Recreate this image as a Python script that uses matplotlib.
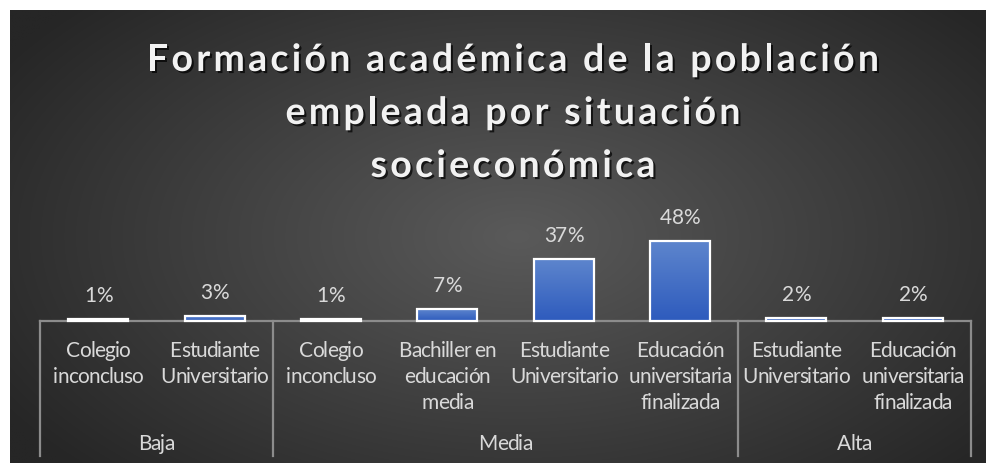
import numpy as np
import matplotlib
matplotlib.use("Agg")
import matplotlib.pyplot as plt
import matplotlib.patheffects as pe
from matplotlib.colors import LinearSegmentedColormap
from matplotlib.transforms import IdentityTransform
from matplotlib.font_manager import FontProperties, findfont, get_font

# ---- data ----
groups = ["Baja", "Media", "Alta"]
group_sizes = [2, 4, 2]
categories = [
    "Colegio\ninconcluso", "Estudiante\nUniversitario",
    "Colegio\ninconcluso", "Bachiller en\neducación\nmedia",
    "Estudiante\nUniversitario", "Educación\nuniversitaria\nfinalizada",
    "Estudiante\nUniversitario", "Educación\nuniversitaria\nfinalizada",
]
values = [1, 3, 1, 7, 37, 48, 2, 2]
value_labels = ["1%", "3%", "1%", "7%", "37%", "48%", "2%", "2%"]
title_lines = ["Formación académica de la población",
               "empleada por situación",
               "socieconómica"]

W, H = 987, 464
fig = plt.figure(figsize=(W / 100, H / 100), dpi=100, facecolor="white")
IDT = IdentityTransform()


def advances(s, prop):
    font = get_font(findfont(prop))
    font.set_size(prop.get_size_in_points(), 100)
    out = []
    for ch in s:
        g = font.load_char(ord(ch))
        out.append(g.linearHoriAdvance / 65536.0)
    return out


def natural_width(s, prop):
    return sum(advances(s, prop))


def tracked(xc, base_top, s, prop, tracking, color, effects=None):
    adv = advances(s, prop)
    total = sum(adv) + tracking * (len(s) - 1)
    x = xc - total / 2
    for ch, a in zip(s, adv):
        if ch != " ":
            t = fig.text(x, H - base_top, ch, transform=IDT, ha="left",
                         va="baseline", fontproperties=prop, color=color)
            if effects:
                t.set_path_effects(effects)
        x += a + tracking


# ---- background radial gradient ----
bg = fig.add_axes([10 / W, 0, 977 / W, (H - 11) / H])
bg.set_axis_off()
yy, xx = np.mgrid[0:1:300j, 0:1:600j]
r = np.sqrt(((xx - 0.52) / 0.62) ** 2 + ((yy - 0.5) / 0.75) ** 2)
r = np.clip(r, 0, 1)
c0 = np.array([0x5a, 0x5a, 0x5a]) / 255
c1 = np.array([0x26, 0x26, 0x26]) / 255
img = c0[None, None, :] * (1 - r[..., None]) + c1[None, None, :] * r[..., None]
bg.imshow(img, aspect="auto", extent=[0, 1, 0, 1], interpolation="bilinear")
bg.set_xlim(0, 1)
bg.set_ylim(0, 1)

# ---- title ----
tprop = FontProperties(family="Lato", weight="bold", size=27)
t_track = (732 - natural_width(title_lines[0], tprop)) / (len(title_lines[0]) - 1)
shadow = [pe.withSimplePatchShadow(offset=(1.5, -1.5), shadow_rgbFace="black",
                                   alpha=0.7)]
for i, line in enumerate(title_lines):
    tracked(513, 72 + 53 * i, line, tprop, t_track, "#f2f2f2", shadow)

# ---- main axes ----
base_px = 322
ax_h_px = 100
ax = fig.add_axes([40 / W, 1 - base_px / H, 931 / W, ax_h_px / H])
ax.patch.set_alpha(0)
n = len(values)
ax.set_axis_off()

x = np.arange(n)
bw = 0.515
bars = ax.bar(x, values, width=bw, color="#4472c4", edgecolor="white",
              linewidth=1.6, zorder=3, clip_on=False)
cmap = LinearSegmentedColormap.from_list("g", ["#2e5bbd", "#5d85cd"])
grad = np.linspace(0, 1, 100).reshape(-1, 1)
for b in bars:
    bx, by = b.get_x(), b.get_y()
    bwid, bh = b.get_width(), b.get_height()
    im = ax.imshow(grad, cmap=cmap, origin="lower", aspect="auto",
                   extent=[bx, bx + bwid, by, by + bh], zorder=3.5)
    im.set_clip_path(b)
    b.set_facecolor("none")
    b.set_zorder(4)
ax.set_xlim(-0.5, n - 0.5)
ax.set_ylim(0, 60)

line_c = "#8c8c8c"
tr = ax.get_xaxis_transform()
ax.plot([-0.5, n - 0.5], [0, 0], color=line_c, lw=1.6, zorder=2, clip_on=False)
bounds = np.concatenate([[0], np.cumsum(group_sizes)]) - 0.5
bottom = -(457 - base_px) / ax_h_px
for bx in bounds:
    ax.plot([bx, bx], [0, bottom], transform=tr, color=line_c, lw=1.6,
            clip_on=False)

# ---- labels ----
lprop = FontProperties(family="Lato", size=15)
l_track = (90 - natural_width("inconcluso", lprop)) / 9
d_track = (40 - natural_width("48%", lprop)) / 2
lab_c = "#d9d9d9"

for xi, v, lab in zip(x, values, value_labels):
    px, py = ax.transData.transform((xi, v))
    tracked(px, (H - py) - 18, lab, lprop, d_track, lab_c)

for xi, cat in zip(x, categories):
    px, _ = ax.transData.transform((xi, 0))
    for j, line in enumerate(cat.split("\n")):
        tracked(px, 357 + 26 * j, line, lprop, l_track, lab_c)

for i, g in enumerate(groups):
    cx = (bounds[i] + bounds[i + 1]) / 2
    px, _ = ax.transData.transform((cx, 0))
    tracked(px, 450, g, lprop, l_track, lab_c)

fig.savefig("out.png", dpi=100, facecolor="white")
